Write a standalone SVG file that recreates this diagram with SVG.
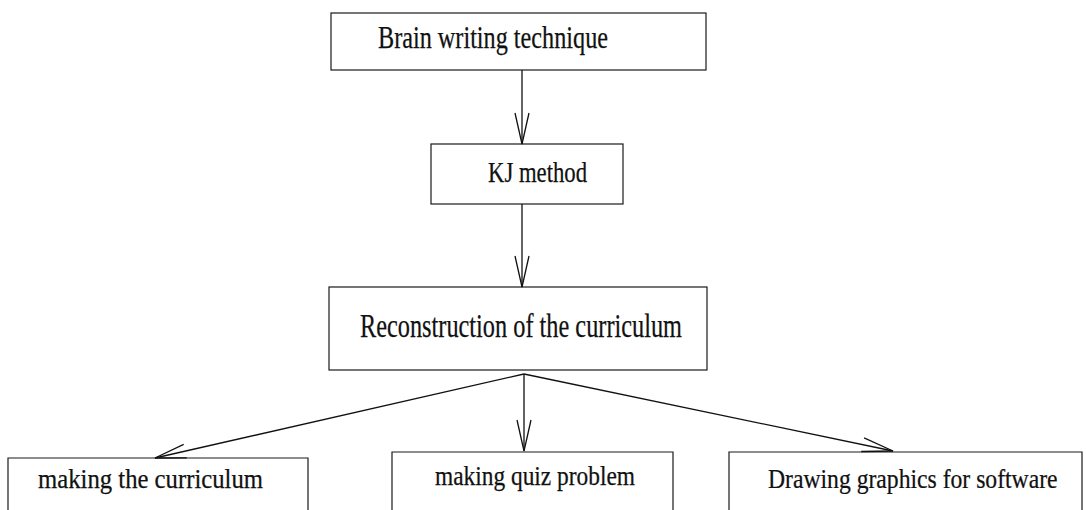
<svg xmlns="http://www.w3.org/2000/svg" width="1086" height="510" viewBox="0 0 1086 510">
  <style>
    .box { fill: #ffffff; stroke: #1a1a1a; stroke-width: 1.2; }
    .lbl { font-family: "Liberation Serif", "DejaVu Serif", serif; fill: #111111; stroke: #111111; stroke-width: 0.25; }
    .edge { fill: none; stroke: #111111; stroke-width: 1.3; }
  </style>
  <defs>
    <!-- open V arrowhead, drawn in user units -->
    <marker id="vhead" markerUnits="userSpaceOnUse" markerWidth="40" markerHeight="20" viewBox="-32 -10 34 20" refX="0" refY="0" orient="auto">
      <path d="M -31 -7 L 0 0 L -31 7" fill="none" stroke="#111111" stroke-width="1.3"/>
    </marker>
  </defs>
  <rect width="1086" height="510" fill="#ffffff"/>

  <g id="node-brainwriting">
    <rect class="box" x="331" y="13" width="375" height="57"/>
    <text class="lbl" x="378" y="48" font-size="32" textLength="230" lengthAdjust="spacingAndGlyphs">Brain writing technique</text>
  </g>

  <g id="node-kj">
    <rect class="box" x="431" y="144" width="192" height="60"/>
    <text class="lbl" x="488" y="182" font-size="29" textLength="99" lengthAdjust="spacingAndGlyphs">KJ method</text>
  </g>

  <g id="node-reconstruction">
    <rect class="box" x="329" y="287" width="378" height="83"/>
    <text class="lbl" x="360" y="337" font-size="33" textLength="322" lengthAdjust="spacingAndGlyphs">Reconstruction of the curriculum</text>
  </g>

  <!-- bottom row: boxes run past the lower page edge, so only top and sides are drawn -->
  <g id="node-curriculum">
    <path class="box" d="M 8 510 V 458 H 308 V 510"/>
    <text class="lbl" x="38" y="488" font-size="27" textLength="225" lengthAdjust="spacingAndGlyphs">making the curriculum</text>
  </g>

  <g id="node-quiz">
    <path class="box" d="M 392 510 V 452 H 673 V 510"/>
    <text class="lbl" x="435" y="485" font-size="27" textLength="200" lengthAdjust="spacingAndGlyphs">making quiz problem</text>
  </g>

  <g id="node-graphics">
    <path class="box" d="M 729 510 V 452 H 1082 V 510"/>
    <!-- horizontally condensed label -->
    <text class="lbl" transform="translate(768 488) scale(0.845 1)" x="0" y="0" font-size="28">Drawing graphics for software</text>
  </g>

  <g id="connectors">
    <line class="edge" x1="522" y1="70" x2="522" y2="144" marker-end="url(#vhead)"/>
    <line class="edge" x1="522" y1="204" x2="522" y2="287" marker-end="url(#vhead)"/>
    <line class="edge" x1="524" y1="374" x2="155" y2="458" marker-end="url(#vhead)"/>
    <line class="edge" x1="524" y1="374" x2="524" y2="451" marker-end="url(#vhead)"/>
    <line class="edge" x1="524" y1="374" x2="893" y2="451" marker-end="url(#vhead)"/>
  </g>
</svg>
